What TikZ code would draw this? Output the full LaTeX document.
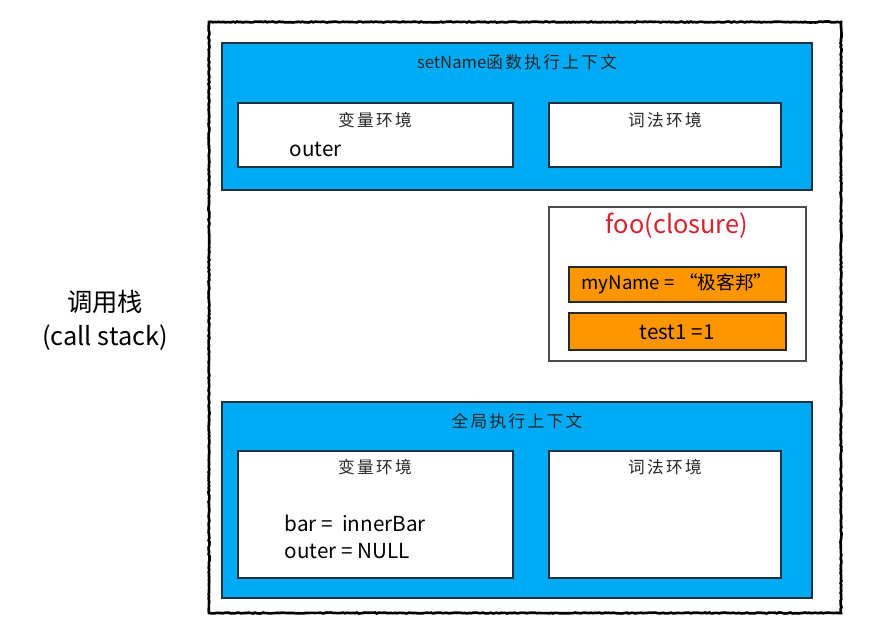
\documentclass[tikz,border=0pt]{standalone}
\usepackage{fontspec}
\setmainfont{Noto Sans CJK SC}
\usetikzlibrary{fit,decorations.pathmorphing}
\definecolor{ctxblue}{RGB}{0,170,245}
\definecolor{edge}{RGB}{30,50,65}
\definecolor{varorange}{RGB}{255,150,0}
\definecolor{closred}{RGB}{215,35,45}
\newcommand{\spcn}{\addfontfeature{LetterSpace=14}}
\tikzset{
  frame/.style={draw=black, line width=2pt, inner sep=0pt,
    decorate, decoration={random steps, segment length=1.5pt, amplitude=0.35pt}},
  ctx/.style={draw=edge, fill=ctxblue, line width=0.9pt, inner sep=0pt},
  env/.style={draw=edge, fill=white, line width=0.9pt, inner sep=0pt},
  clos/.style={draw=black!70, fill=white, line width=0.8pt, inner sep=0pt},
  var/.style={draw=black!85, fill=varorange, line width=0.9pt, inner sep=0pt},
  title/.style={font=\fontsize{12.5}{14}\selectfont, text=black!85},
  label/.style={font=\fontsize{15.5}{18}\selectfont, text=black},
}
\begin{document}
\begin{tikzpicture}[x=0.75pt, y=-0.75pt]
\useasboundingbox (0,0) rectangle (876,639);
% outer call stack frame
\draw[frame] (209,22) rectangle (841,613);
% setName context
\node[ctx, fit={(222,43) (812,190)}] (setctx) {};
\node[env, fit={(238,103) (513,167)}] (setvar) {};
\node[env, fit={(549,103) (781,167)}] (setlex) {};
\node[title] (settitle) at (517,62) {setName{\spcn 函数执行上下文}};
\node[title] (setvart) at (375,120) {\spcn 变量环境};
\node[title] (setlext) at (665,120) {\spcn 词法环境};
\node[label, anchor=west] (setouter) at (285,149) {outer};
% closure
\node[clos, fit={(549,207) (806,361)}] (closure) {};
\node[font=\fontsize{19}{22}\selectfont, text=closred] (clostitle) at (677,226) {foo(closure)};
\node[var, fit={(569,267) (786,302)}] (myname) {};
\node[label, font=\fontsize{14}{16}\selectfont] (mynamet) at (677,284) {myName = “极客邦”};
\node[var, fit={(569,313) (786,350)}] (test1) {};
\node[label] (test1t) at (677,332) {test1 =1};
% global context
\node[ctx, fit={(222,402) (812,598)}] (globctx) {};
\node[env, fit={(238,451) (513,578)}] (globvar) {};
\node[env, fit={(549,451) (781,578)}] (globlex) {};
\node[title] (globtitle) at (517,421) {\spcn 全局执行上下文};
\node[title] (globvart) at (375,467) {\spcn 变量环境};
\node[title] (globlext) at (665,467) {\spcn 词法环境};
\node[label, anchor=west] (bart) at (280,523) {bar =\ \ innerBar};
\node[label, anchor=west] (outert) at (280,551) {outer = NULL};
% call stack label
\node[font=\fontsize{19}{22}\selectfont] (csa) at (105,302) {调用栈};
\node[font=\fontsize{19}{22}\selectfont] (csb) at (105,338) {(call stack)};
\end{tikzpicture}
\end{document}
